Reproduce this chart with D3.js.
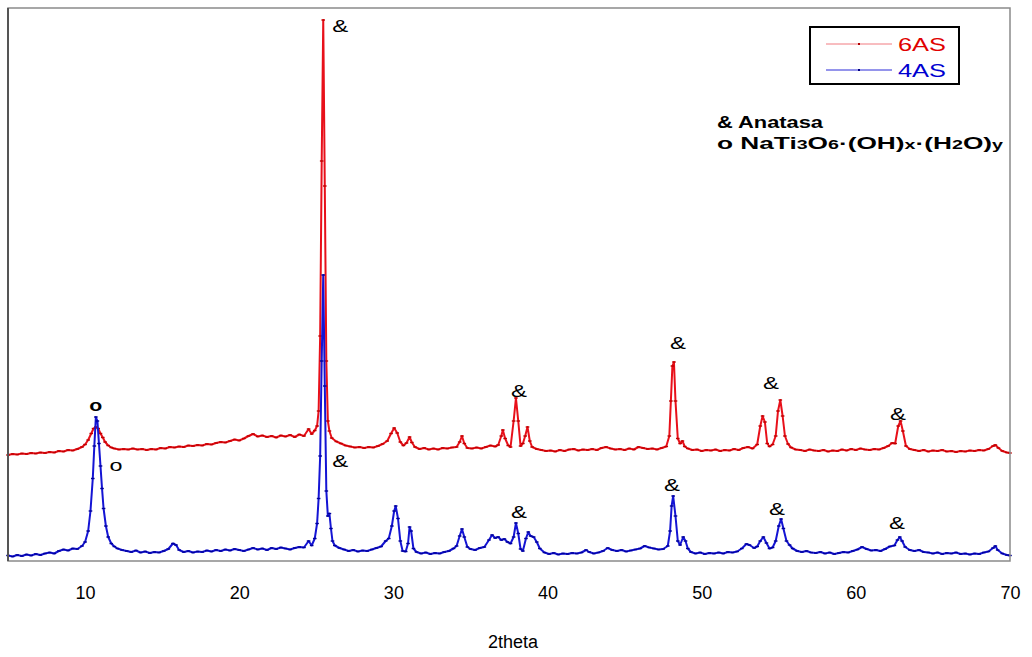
<!DOCTYPE html>
<html>
<head>
<meta charset="utf-8">
<script src="https://cdn.jsdelivr.net/npm/d3@7"></script>
<style>
  body { margin: 0; background: #fff; }
  svg text { font-family: "Liberation Sans", Arial, sans-serif; }
</style>
</head>
<body>
<div id="chart"></div>
<script>
// 2theta positions and intensities (counts)
const series4AS = [
  [5.0,22],[5.3,18],[5.6,24],[5.9,20],[6.2,26],[6.5,22],[6.8,28],[7.1,24],[7.4,30],[7.7,34],[8.0,30],[8.3,40],[8.6,46],[8.9,42],[9.2,50],[9.5,48],[9.8,60],[10.0,76],[10.2,120],[10.35,200],[10.5,330],[10.6,460],[10.7,576],[10.8,560],[10.9,470],[11.0,380],[11.1,290],[11.2,210],[11.35,140],[11.5,96],[11.7,70],[11.9,58],[12.1,50],[12.4,44],[12.7,40],[13.0,36],[13.3,42],[13.6,34],[13.9,38],[14.2,32],[14.5,36],[14.8,34],[15.1,40],[15.4,48],[15.7,70],[15.9,64],[16.1,44],[16.4,36],[16.7,40],[17.0,34],[17.3,38],[17.6,36],[17.9,42],[18.2,38],[18.5,44],[18.8,40],[19.1,46],[19.4,42],[19.7,48],[20.0,44],[20.3,40],[20.6,46],[20.9,52],[21.2,46],[21.5,50],[21.8,44],[22.1,52],[22.4,48],[22.7,54],[23.0,50],[23.3,46],[23.6,52],[23.9,56],[24.2,54],[24.5,80],[24.7,62],[24.9,90],[25.05,150],[25.15,250],[25.25,420],[25.35,800],[25.45,1144],[25.55,700],[25.65,280],[25.75,180],[25.85,190],[25.95,130],[26.05,80],[26.2,62],[26.5,52],[26.8,46],[27.1,40],[27.4,44],[27.7,38],[28.0,42],[28.3,40],[28.6,46],[28.9,52],[29.2,58],[29.5,80],[29.7,90],[29.9,140],[30.05,200],[30.15,220],[30.3,170],[30.45,80],[30.6,40],[30.8,38],[30.95,70],[31.05,136],[31.15,120],[31.3,50],[31.5,36],[31.8,30],[32.1,34],[32.4,28],[32.7,32],[33.0,30],[33.3,36],[33.6,40],[33.9,50],[34.1,60],[34.3,100],[34.45,128],[34.6,96],[34.8,56],[35.0,48],[35.3,44],[35.6,52],[35.9,56],[36.2,84],[36.4,104],[36.6,92],[36.8,96],[37.0,84],[37.2,88],[37.4,76],[37.6,70],[37.8,96],[37.95,152],[38.1,110],[38.25,48],[38.4,40],[38.6,90],[38.75,116],[38.9,100],[39.1,96],[39.3,76],[39.5,50],[39.8,34],[40.1,28],[40.4,32],[40.7,26],[41.0,30],[41.3,28],[41.6,32],[41.9,30],[42.2,34],[42.5,44],[42.7,36],[43.0,30],[43.3,34],[43.6,40],[43.9,52],[44.2,44],[44.5,40],[44.8,44],[45.1,38],[45.4,42],[45.7,46],[46.0,50],[46.3,60],[46.6,54],[46.9,50],[47.2,46],[47.5,48],[47.8,60],[47.95,120],[48.05,220],[48.15,260],[48.3,180],[48.45,80],[48.6,64],[48.8,96],[48.95,80],[49.1,50],[49.3,36],[49.6,30],[49.9,34],[50.2,28],[50.5,32],[50.8,30],[51.1,34],[51.4,30],[51.7,36],[52.0,34],[52.3,38],[52.6,50],[52.9,68],[53.1,64],[53.4,52],[53.6,58],[53.8,80],[54.0,96],[54.2,72],[54.4,50],[54.6,54],[54.8,80],[55.0,140],[55.15,168],[55.3,130],[55.5,80],[55.7,64],[55.9,50],[56.2,40],[56.5,36],[56.8,40],[57.1,34],[57.4,32],[57.7,36],[58.0,30],[58.3,34],[58.6,28],[58.9,32],[59.2,36],[59.5,34],[59.8,40],[60.1,46],[60.4,56],[60.7,48],[61.0,42],[61.3,44],[61.6,40],[61.9,48],[62.2,58],[62.5,62],[62.7,84],[62.85,96],[63.0,80],[63.2,56],[63.5,44],[63.8,40],[64.1,44],[64.4,36],[64.7,34],[65.0,30],[65.3,34],[65.6,28],[65.9,32],[66.2,30],[66.5,34],[66.8,28],[67.1,30],[67.4,26],[67.7,30],[68.0,28],[68.3,34],[68.6,38],[68.9,52],[69.05,60],[69.2,44],[69.5,30],[69.8,24],[70.0,22]
];

const series6AS = [
  [5.0,424],[5.3,428],[5.6,426],[5.9,430],[6.2,428],[6.5,432],[6.8,430],[7.1,434],[7.4,432],[7.7,436],[8.0,434],[8.3,440],[8.6,438],[8.9,444],[9.2,442],[9.5,448],[9.8,456],[10.0,466],[10.2,484],[10.4,510],[10.55,530],[10.7,536],[10.85,530],[11.0,510],[11.15,494],[11.3,476],[11.5,462],[11.7,454],[11.9,450],[12.2,446],[12.5,448],[12.8,446],[13.1,450],[13.4,446],[13.7,448],[14.0,444],[14.3,448],[14.6,446],[14.9,452],[15.2,450],[15.5,456],[15.8,454],[16.1,458],[16.4,456],[16.7,462],[17.0,460],[17.3,464],[17.6,462],[17.9,468],[18.2,466],[18.5,472],[18.8,476],[19.1,474],[19.4,480],[19.7,486],[20.0,482],[20.3,490],[20.6,500],[20.9,508],[21.2,498],[21.5,502],[21.8,496],[22.1,500],[22.4,494],[22.7,502],[23.0,498],[23.3,504],[23.6,496],[23.9,506],[24.2,500],[24.5,528],[24.7,508],[24.9,522],[25.05,540],[25.15,600],[25.25,900],[25.35,1600],[25.45,2164],[25.55,1500],[25.65,800],[25.75,560],[25.85,520],[26.0,492],[26.3,478],[26.6,470],[26.9,462],[27.2,458],[27.5,454],[27.8,456],[28.1,452],[28.4,456],[28.7,454],[29.0,460],[29.3,468],[29.6,480],[29.85,510],[30.05,532],[30.25,512],[30.45,476],[30.65,462],[30.85,472],[31.05,496],[31.2,474],[31.4,456],[31.7,448],[32.0,452],[32.3,446],[32.6,450],[32.9,446],[33.2,452],[33.5,450],[33.8,454],[34.1,456],[34.3,476],[34.45,500],[34.6,470],[34.8,452],[35.1,450],[35.4,454],[35.7,450],[36.0,456],[36.3,462],[36.6,458],[36.8,464],[37.0,500],[37.1,524],[37.25,490],[37.45,462],[37.6,456],[37.8,560],[37.95,652],[38.1,560],[38.25,460],[38.4,470],[38.55,500],[38.7,536],[38.85,480],[39.0,456],[39.3,448],[39.6,444],[39.9,440],[40.2,442],[40.5,438],[40.8,444],[41.1,440],[41.4,446],[41.7,448],[42.0,442],[42.3,446],[42.6,444],[42.9,448],[43.2,444],[43.5,452],[43.8,456],[44.1,450],[44.4,446],[44.7,448],[45.0,444],[45.3,450],[45.6,446],[45.9,456],[46.2,452],[46.5,448],[46.8,450],[47.1,446],[47.4,452],[47.7,458],[47.9,500],[48.0,640],[48.1,780],[48.2,796],[48.3,640],[48.45,490],[48.6,470],[48.75,480],[48.9,458],[49.1,450],[49.4,444],[49.7,446],[50.0,440],[50.3,444],[50.6,442],[50.9,446],[51.2,440],[51.5,444],[51.8,442],[52.1,448],[52.4,444],[52.7,452],[53.0,456],[53.3,450],[53.6,466],[53.8,540],[53.95,580],[54.1,556],[54.25,470],[54.4,458],[54.6,466],[54.8,500],[54.95,600],[55.1,644],[55.25,580],[55.4,500],[55.6,468],[55.8,454],[56.1,446],[56.4,444],[56.7,440],[57.0,446],[57.3,442],[57.6,440],[57.9,444],[58.2,438],[58.5,442],[58.8,440],[59.1,446],[59.4,442],[59.7,448],[60.0,444],[60.3,450],[60.6,446],[60.9,444],[61.2,448],[61.5,446],[61.8,452],[62.1,460],[62.35,472],[62.55,470],[62.75,540],[62.9,560],[63.05,520],[63.25,460],[63.5,448],[63.8,444],[64.1,440],[64.4,444],[64.7,438],[65.0,442],[65.3,440],[65.6,444],[65.9,438],[66.2,440],[66.5,436],[66.8,440],[67.1,438],[67.4,442],[67.7,440],[68.0,444],[68.3,442],[68.6,448],[68.9,460],[69.05,464],[69.25,452],[69.5,440],[69.8,434],[70.0,432]
];

const xTicks = [10, 20, 30, 40, 50, 60, 70];
const seriesNames = ["6AS", "4AS"];

// peak markers: [2theta, counts, symbol, bold]
const peakLabels6AS = [[10.7,600,"o",true],[26.55,2116,"&",false],[38.15,656,"&",false],[48.46,848,"&",false],[54.5,688,"&",false],[62.74,564,"&",false]];
const peakLabels4AS = [[12.0,360,"o",false],[26.55,376,"&",false],[38.15,172,"&",false],[48.07,280,"&",false],[54.89,184,"&",false],[62.67,128,"&",false]];

let width = 1032, height = 657;
let mLeft = 8, mRight = 1010, mTop = 8, mBottom = 561;

var svg = d3.select("#chart")
  .append("svg")
  .attr("width", width)
  .attr("height", height);

let x = d3.scaleLinear().domain([5, 70]).range([mLeft, mRight]);
let y = d3.scaleLinear().domain([0, 2212]).range([mBottom, mTop]);

let line = d3.line()
  .x(d => x(d[0]))
  .y(d => y(d[1]));

function drawSeries(data, color, markColor) {
  svg.append("path")
    .datum(data)
    .attr("d", line)
    .attr("fill", "none")
    .attr("stroke", color)
    .attr("stroke-width", 2)
    .attr("stroke-linejoin", "round");

  // small dash markers at each point
  svg.append("g").selectAll("line")
    .data(data)
    .enter()
    .append("line")
    .attr("x1", d => x(d[0]) - 1.8)
    .attr("x2", d => x(d[0]) + 1.8)
    .attr("y1", d => y(d[1]))
    .attr("y2", d => y(d[1]))
    .attr("stroke", markColor)
    .attr("stroke-width", 1.4);
}

drawSeries(series6AS, "#e8101a", "#c00000");
drawSeries(series4AS, "#1414d4", "#00009a");

// peak symbols, stretched wide like the original
function drawLabels(labels) {
  svg.append("g").selectAll("text")
    .data(labels)
    .enter()
    .append("text")
    .attr("x", d => x(d[0]) - (d[2] == "o" ? 6.5 : 8))
    .attr("y", d => y(d[1]))
    .attr("font-size", d => d[2] == "o" ? 17 : 17)
    .attr("font-weight", d => d[3] ? "bold" : "normal")
    .attr("textLength", d => d[2] == "o" ? 13 : 16)
    .attr("lengthAdjust", "spacingAndGlyphs")
    .attr("fill", "#000")
    .text(d => d[2]);
}
drawLabels(peakLabels6AS);
drawLabels(peakLabels4AS);

// frame
svg.append("rect")
  .attr("x", mLeft).attr("y", mTop)
  .attr("width", mRight - mLeft).attr("height", mBottom - mTop)
  .attr("fill", "none")
  .attr("stroke", "#8a8a8a")
  .attr("stroke-width", 1.5);
svg.append("line")
  .attr("x1", mLeft).attr("x2", mLeft)
  .attr("y1", mTop).attr("y2", mBottom)
  .attr("stroke", "#555")
  .attr("stroke-width", 2);

// x axis labels
let axis = svg.append("g")
  .attr("transform", "translate(0," + mBottom + ")")
  .call(d3.axisBottom(x).tickValues(xTicks).tickSize(0).tickPadding(25));
axis.select(".domain").remove();
axis.selectAll("text")
  .attr("font-size", 18)
  .attr("font-family", "'Liberation Sans', Arial, sans-serif")
  .attr("fill", "#000");

svg.append("text")
  .attr("x", 513)
  .attr("y", 648)
  .attr("text-anchor", "middle")
  .attr("font-size", 18)
  .text("2theta");

// legend
let legend = svg.append("g");
legend.append("rect")
  .attr("x", 810).attr("y", 27)
  .attr("width", 149).attr("height", 57)
  .attr("fill", "#fff")
  .attr("stroke", "#000")
  .attr("stroke-width", 2);
let legendColors = ["#e8101a", "#1414d4"];
seriesNames.forEach((name, i) => {
  let ly = 44 + i * 26;
  legend.append("line")
    .attr("x1", 826).attr("x2", 892)
    .attr("y1", ly).attr("y2", ly)
    .attr("stroke", legendColors[i])
    .attr("stroke-width", 1)
    .attr("opacity", i == 0 ? 0.55 : 0.9);
  legend.append("rect")
    .attr("x", 858).attr("y", ly - 1)
    .attr("width", 2).attr("height", 2)
    .attr("fill", i == 0 ? "#b00000" : "#000080");
  legend.append("text")
    .attr("x", 898).attr("y", ly + 7)
    .attr("font-size", 19)
    .attr("textLength", 48)
    .attr("lengthAdjust", "spacingAndGlyphs")
    .attr("fill", i == 0 ? "#e00000" : "#0000d0")
    .text(name);
});

// phase key
let key = svg.append("g")
  .attr("font-weight", "bold")
  .attr("font-size", 16)
  .attr("fill", "#000");
key.append("text")
  .attr("x", 717).attr("y", 128)
  .attr("textLength", 106)
  .attr("lengthAdjust", "spacingAndGlyphs")
  .text("& Anatasa");
let formula = key.append("text")
  .attr("x", 717).attr("y", 149)
  .attr("textLength", 286)
  .attr("lengthAdjust", "spacingAndGlyphs");
let parts = [["o NaTi", false], ["3", true], ["O", false], ["6", true], ["·(OH)", false], ["x", true], ["·(H", false], ["2", true], ["O)", false], ["y", true]];
parts.forEach(p => {
  formula.append("tspan")
    .attr("font-size", p[1] ? 12 : 16)
    .text(p[0]);
});
</script>
</body>
</html>
